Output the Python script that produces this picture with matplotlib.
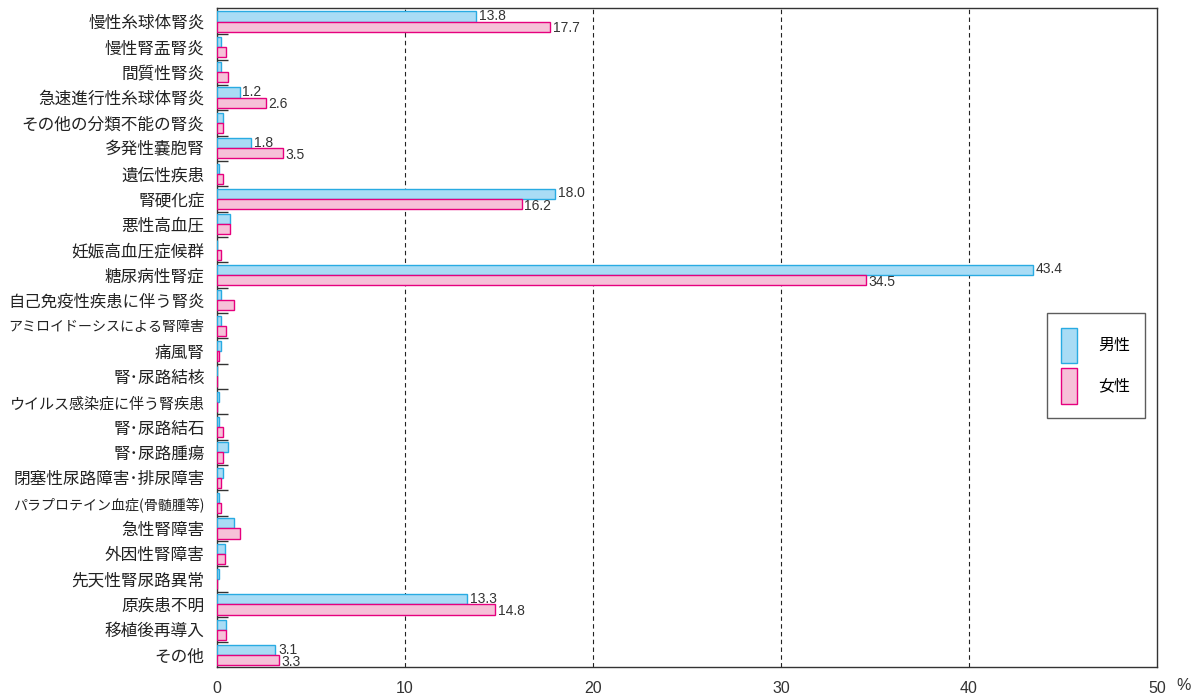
import matplotlib
matplotlib.use("Agg")
import matplotlib.pyplot as plt
from matplotlib.patches import Patch
import numpy as np

plt.rcParams['font.family'] = ['Noto Sans CJK JP', 'DejaVu Sans']

# Chart data
categories = [
    '慢性糸球体腎炎', '慢性腎盂腎炎', '間質性腎炎', '急速進行性糸球体腎炎',
    'その他の分類不能の腎炎', '多発性嚢胞腎', '遺伝性疾患', '腎硬化症',
    '悪性高血圧', '妊娠高血圧症候群', '糖尿病性腎症', '自己免疫性疾患に伴う腎炎',
    'アミロイドーシスによる腎障害', '痛風腎', '腎･尿路結核', 'ウイルス感染症に伴う腎疾患',
    '腎･尿路結石', '腎･尿路腫瘍', '閉塞性尿路障害･排尿障害', 'パラプロテイン血症(骨髄腫等)',
    '急性腎障害', '外因性腎障害', '先天性腎尿路異常', '原疾患不明',
    '移植後再導入', 'その他',
]
male = [13.8, 0.2, 0.2, 1.2, 0.3, 1.8, 0.1, 18.0, 0.7, 0.0, 43.4, 0.2, 0.2,
        0.2, 0.0, 0.1, 0.1, 0.6, 0.3, 0.1, 0.9, 0.4, 0.1, 13.3, 0.5, 3.1]
female = [17.7, 0.5, 0.6, 2.6, 0.3, 3.5, 0.3, 16.2, 0.7, 0.2, 34.5, 0.9, 0.5,
          0.1, 0.0, 0.0, 0.3, 0.3, 0.2, 0.2, 1.2, 0.4, 0.0, 14.8, 0.5, 3.3]
# rows whose values are printed next to the bars
labeled = [0, 3, 5, 7, 10, 23, 25]
x_ticks = [0, 10, 20, 30, 40, 50]

blue_face, blue_edge = '#a9dcf5', '#29abe2'
pink_face, pink_edge = '#f6c1d8', '#e6007e'

fig = plt.figure(figsize=(11.99, 6.97), dpi=100)
ax = fig.add_axes([0.181, 0.043, 0.784, 0.946])

y = np.arange(len(categories))
h = 0.4
ax.barh(y - h / 2, male, height=h, color=blue_face, edgecolor=blue_edge, linewidth=1.0, zorder=3)
ax.barh(y + h / 2, female, height=h, color=pink_face, edgecolor=pink_edge, linewidth=1.0, zorder=3)

for i in labeled:
    ax.text(male[i] + 0.15, y[i] - h / 2 - 0.02, f"{male[i]:.1f}", va='center', ha='left',
            fontsize=10, color='#333333', family='Liberation Sans')
    ax.text(female[i] + 0.15, y[i] + h / 2 + 0.07, f"{female[i]:.1f}", va='center', ha='left',
            fontsize=10, color='#333333', family='Liberation Sans')

ax.set_xlim(0, 50)
ax.set_ylim(len(categories) - 0.53, -0.55)
ax.set_xticks(x_ticks)
ax.set_xticklabels([str(t) for t in x_ticks], family='Liberation Sans', fontsize=11.5, color='#333333')
ax.tick_params(axis='x', length=0, pad=10)

ax.set_yticks(y)
ax.set_yticklabels(categories, color='#222222')
ax.tick_params(axis='y', which='major', length=0, pad=9)
# shrink the long labels so they fit in the left margin
max_w = 196.0
for lab in ax.get_yticklabels():
    text = lab.get_text()
    n = sum(0.5 if c in '･()' else 1.0 for c in text)
    size = min(12.0, max_w / n * 72 / 100)
    lab.set_fontsize(size)
ax.set_yticks(np.arange(0.5, len(categories) - 1, 1.0), minor=True)
ax.tick_params(axis='y', which='minor', direction='in', length=8, width=1.0, color='#333333')

for t in x_ticks[1:-1]:
    ax.axvline(t, color='#222222', linestyle=(0, (4, 3)), linewidth=0.8, zorder=1)

for s in ax.spines.values():
    s.set_color('#333333')
    s.set_linewidth(1.0)

fig.text(0.987, 0.017, '%', fontsize=11.5, color='#333333', family='Liberation Sans', ha='center', va='center')

handles = [Patch(facecolor=blue_face, edgecolor=blue_edge, label='男性'),
           Patch(facecolor=pink_face, edgecolor=pink_edge, label='女性')]
leg = ax.legend(handles=handles, loc='center left', bbox_to_anchor=(0.8745, 0.457),
                frameon=True, fancybox=False, handlelength=1.0, handleheight=3.0,
                borderpad=0.9, labelspacing=0.35, handletextpad=1.3, fontsize=11.5)
leg.get_frame().set_edgecolor('#333333')
leg.get_frame().set_linewidth(1.0)

fig.savefig('out.png', dpi=100)
